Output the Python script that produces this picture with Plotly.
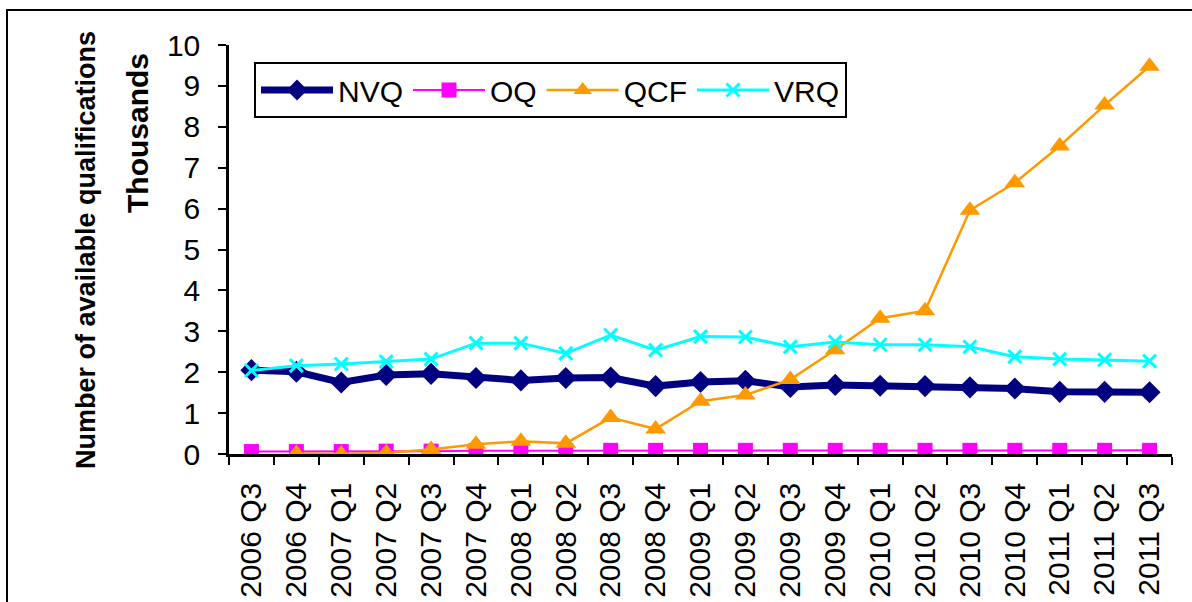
import plotly.graph_objects as go

quarters = ["2006 Q3", "2006 Q4", "2007 Q1", "2007 Q2", "2007 Q3", "2007 Q4",
            "2008 Q1", "2008 Q2", "2008 Q3", "2008 Q4", "2009 Q1", "2009 Q2",
            "2009 Q3", "2009 Q4", "2010 Q1", "2010 Q2", "2010 Q3", "2010 Q4",
            "2011 Q1", "2011 Q2", "2011 Q3"]

nvq = [2.05, 2.01, 1.75, 1.93, 1.96, 1.86, 1.80, 1.86, 1.87, 1.66, 1.76,
       1.79, 1.64, 1.69, 1.67, 1.66, 1.63, 1.60, 1.52, 1.52, 1.51]
oq = [0.06, 0.06, 0.06, 0.07, 0.07, 0.08, 0.08, 0.08, 0.09, 0.09, 0.09,
      0.09, 0.09, 0.09, 0.09, 0.09, 0.09, 0.09, 0.09, 0.09, 0.09]
qcf = [None, 0.01, 0.00, 0.03, 0.11, 0.24, 0.31, 0.26, 0.89, 0.61, 1.29,
       1.44, 1.82, 2.55, 3.32, 3.50, 5.96, 6.63, 7.53, 8.53, 9.48]
vrq = [2.04, 2.16, 2.20, 2.26, 2.32, 2.71, 2.71, 2.46, 2.91, 2.54, 2.87,
       2.86, 2.62, 2.74, 2.67, 2.67, 2.62, 2.38, 2.32, 2.30, 2.27]

FONT = "Arial, Liberation Sans, sans-serif"

fig = go.Figure()
fig.add_trace(go.Scatter(x=quarters, y=nvq, name="NVQ", mode="lines+markers",
                         line=dict(color="#000080", width=7),
                         marker=dict(symbol="diamond", size=17, color="#000080")))
fig.add_trace(go.Scatter(x=quarters, y=oq, name="OQ", mode="lines+markers",
                         line=dict(color="#FF00FF", width=2),
                         marker=dict(symbol="square", size=15, color="#FF00FF")))
fig.add_trace(go.Scatter(x=quarters, y=qcf, name="QCF", mode="lines+markers",
                         line=dict(color="#FF9900", width=2.5),
                         marker=dict(symbol="triangle-up", size=18, color="#FF9900")))
fig.add_trace(go.Scatter(x=quarters, y=vrq, name="VRQ", mode="lines+markers",
                         line=dict(color="#00FFFF", width=3),
                         marker=dict(symbol="x-thin", size=13,
                                     line=dict(color="#00FFFF", width=3))))

L, R, T, B = 229, 1172, 45, 454
W, H = R - L, B - T

def px(x):
    return (x - L) / W

def py(y):
    return (B - y) / H

fig.update_layout(
    width=1192, height=602,
    margin=dict(l=L, r=1192 - R, t=T, b=602 - B, autoexpand=False),
    paper_bgcolor="white", plot_bgcolor="white",
    font=dict(family=FONT, size=30, color="black"),
    showlegend=True,
    legend=dict(orientation="h", x=px(254), y=py(62), xanchor="left", yanchor="top",
                bordercolor="black", borderwidth=2, bgcolor="white",
                font=dict(family=FONT, size=30, color="black"),
                itemwidth=72, traceorder="normal"),
    xaxis=dict(type="category", showline=True, linecolor="black", linewidth=2.5,
               ticks="outside", tickson="boundaries", ticklen=8, tickwidth=2,
               tickcolor="black", tickangle=-90, showgrid=False, zeroline=False,
               automargin=False, ticklabelstandoff=14,
               tickfont=dict(family=FONT, size=30, color="black"),
               range=[-0.5, len(quarters) - 0.5]),
    yaxis=dict(range=[0, 10], dtick=1, showline=True, linecolor="black", linewidth=2.5,
               ticks="outside", ticklen=8, tickwidth=2, tickcolor="black",
               showgrid=False, zeroline=False, automargin=False, ticklabelstandoff=12,
               tickfont=dict(family=FONT, size=30, color="black")),
)

fig.add_annotation(text="<b>Number of available qualifications</b>", textangle=-90,
                   xref="paper", yref="paper", x=px(86), y=py(250),
                   xanchor="center", yanchor="middle", showarrow=False,
                   font=dict(family=FONT, size=27, color="black"))
fig.add_annotation(text="<b>Thousands</b>", textangle=-90,
                   xref="paper", yref="paper", x=px(137), y=py(133),
                   xanchor="center", yanchor="middle", showarrow=False,
                   font=dict(family=FONT, size=30, color="black"))

fig.add_shape(type="rect", xref="paper", yref="paper",
              x0=px(7), y0=py(650), x1=px(1250), y1=py(10),
              line=dict(color="black", width=2), fillcolor="rgba(0,0,0,0)", layer="below")

fig.write_html("out.html", config={"displayModeBar": False},
               post_script="document.body.style.margin='0';document.body.style.overflow='hidden';")
